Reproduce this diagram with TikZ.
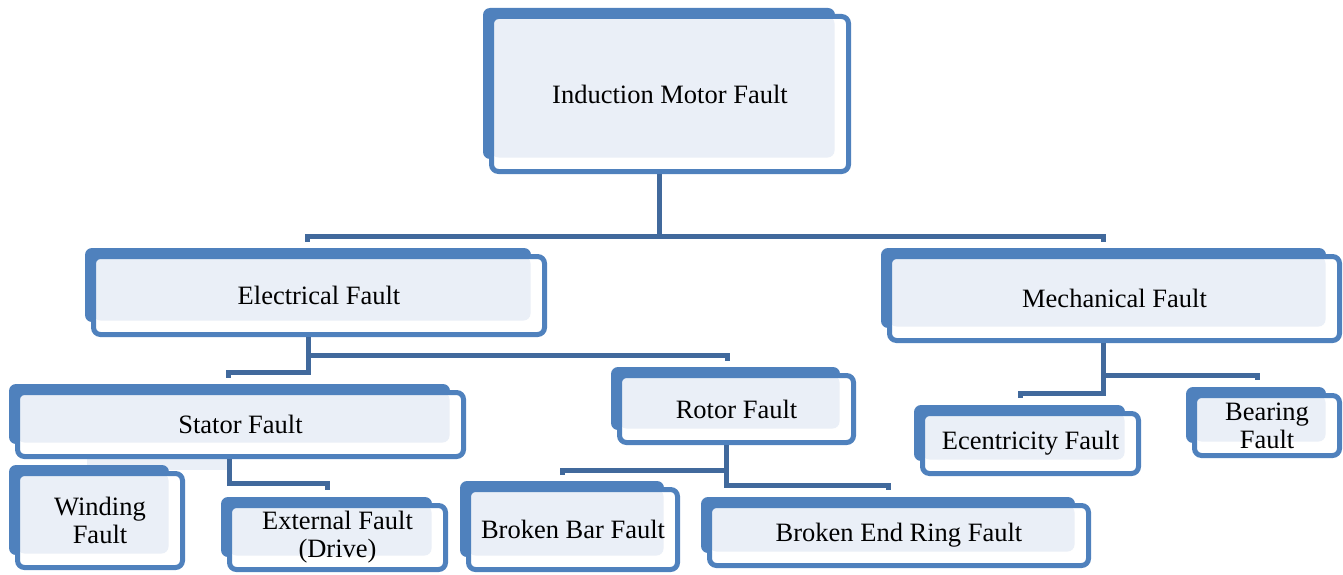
\documentclass[tikz,border=0pt]{standalone}
\usepackage{fontspec}
\setmainfont{Liberation Serif}
\usetikzlibrary{backgrounds}

\definecolor{boxblue}{HTML}{4F81BD}
\definecolor{boxfill}{HTML}{EAEFF7}
\definecolor{linkblue}{HTML}{41699C}

\begin{document}
\begin{tikzpicture}
 [x=1pt,y=-1pt,
  fault node/.style={rounded corners=7pt, draw=boxblue, line width=5pt, fill=white,
    align=center, inner sep=0pt, font=\fontsize{26.5}{28}\selectfont,
    path picture={\fill[boxfill] (path picture bounding box.north west) rectangle
      ([shift={(-14pt,14pt)}]path picture bounding box.south east);}},
  back box/.style={fill=boxblue, rounded corners=7pt},
  link/.style={draw=linkblue, line width=5pt}]

 \useasboundingbox (0,0) rectangle (1343,575);

 % boxes
 \node[fault node, minimum width=357pt, minimum height=155pt] (root) at (670,94) {Induction Motor Fault};
 \node[fault node, minimum width=451pt, minimum height=78pt] (elec) at (319,295.5) {Electrical Fault};
 \node[fault node, minimum width=450pt, minimum height=84pt] (mech) at (1114.5,298.5) {Mechanical Fault};

 \node[fault node, minimum width=446pt, minimum height=64pt] (stator) at (240.5,424.5) {Stator Fault};
 \node[fault node, minimum width=234pt, minimum height=67pt] (rotor) at (736.5,409) {Rotor Fault};
 \node[fault node, minimum width=216pt, minimum height=60pt] (ecc) at (1030.5,443.5) {Ecentricity Fault};
 \node[fault node, minimum width=145pt, minimum height=60pt] (bearing) at (1267,425.5) {Bearing\\Fault};

 \node[fault node, minimum width=165pt, minimum height=94pt] (winding) at (100,520.5) {Winding\\Fault};
 \node[fault node, minimum width=216pt, minimum height=64pt] (external) at (337.5,537.5) {External Fault\\(Drive)};
 \node[fault node, minimum width=209pt, minimum height=80pt] (brokenbar) at (573,529.5) {Broken Bar Fault};
 \node[fault node, minimum width=379pt, minimum height=60pt] (endring) at (899,535.5) {Broken End Ring Fault};

 % blue backs behind every box
 \begin{scope}[on background layer]
  \fill[boxfill] (87,453) rectangle (232,470);
  \foreach \n in {root,elec,mech,stator,rotor,ecc,bearing,winding,external,brokenbar,endring}
   \fill[back box] ([shift={(-6pt,6pt)}]\n.north west) rectangle ([shift={(-16pt,15pt)}]\n.south east);
 \end{scope}

 % branch points and stub ends
 \coordinate (root bus) at (659,236);
 \coordinate (elec in) at (307,242);
 \coordinate (mech in) at (1103,242);

 \coordinate (elec mid) at (308,355);
 \coordinate (elec bus) at (308,372);
 \coordinate (stator in) at (228,378);
 \coordinate (rotor in) at (727,361);

 \coordinate (mech mid) at (1103,375);
 \coordinate (mech bus) at (1103,393);
 \coordinate (ecc in) at (1020,398);
 \coordinate (bearing in) at (1257,380);

 \coordinate (stator bus) at (229,483);
 \coordinate (external in) at (327,490);

 \coordinate (rotor mid) at (726,470);
 \coordinate (rotor bus) at (726,485);
 \coordinate (brokenbar in) at (562,475);
 \coordinate (endring in) at (888,490);

 % connectors
 \draw[link] (root.south -| root bus) -- (root bus) -| (elec in);
 \draw[link] (root bus) -| (mech in);

 \draw[link] (elec.south -| elec bus) -- (elec bus) -| (stator in);
 \draw[link] (elec mid) -| (rotor in);

 \draw[link] (mech.south -| mech bus) -- (mech bus) -| (ecc in);
 \draw[link] (mech mid) -| (bearing in);

 \draw[link] (stator.south -| stator bus) -- (stator bus) -| (external in);

 \draw[link] (rotor.south -| rotor bus) -- (rotor bus) -| (endring in);
 \draw[link] (rotor mid) -| (brokenbar in);

\end{tikzpicture}
\end{document}
